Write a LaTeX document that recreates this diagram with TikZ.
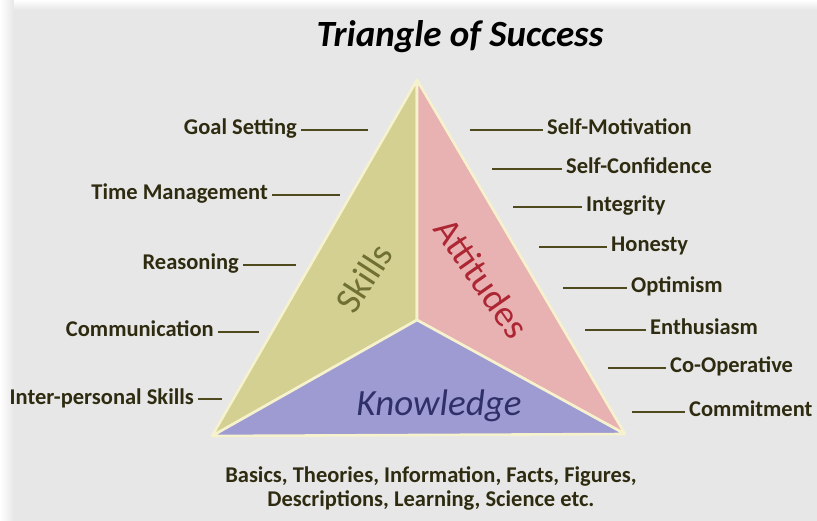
\documentclass[tikz,border=0pt]{standalone}
\usepackage{fontspec}
\setmainfont{Carlito}

\definecolor{bggray}{RGB}{231,231,231}
\definecolor{gapcream}{RGB}{246,242,205}
\definecolor{skillfill}{RGB}{211,208,145}
\definecolor{attfill}{RGB}{233,178,178}
\definecolor{knowfill}{RGB}{157,155,210}
\definecolor{skilltext}{RGB}{112,112,52}
\definecolor{atttext}{RGB}{172,38,52}
\definecolor{knowtext}{RGB}{48,48,105}
\definecolor{lbltext}{RGB}{46,43,16}
\definecolor{tickline}{RGB}{78,74,30}

\tikzset{
  lbl/.style={font=\bfseries\fontsize{22.5}{26}\selectfont, text=lbltext,
    inner sep=4pt, text height=10pt, text depth=0pt},
  tick/.style={draw=tickline, line width=1.7pt},
  piece/.style={draw=gapcream, line width=2.6pt, line join=round},
  bigword/.style={font=\fontsize{37}{40}\selectfont},
}

\begin{document}
\begin{tikzpicture}[x=1pt,y=-1pt]
  \fill[bggray] (0,0) rectangle (817,521);
  \shade[left color=white, right color=bggray] (0,0) rectangle (14,521);
  \shade[top color=white, bottom color=bggray] (14,0) rectangle (817,10);
  \useasboundingbox (0,0) rectangle (817,521);

  % the triangle
  \coordinate (top) at (417,80);
  \coordinate (mid) at (417,320);
  \coordinate (bl) at (212,436);
  \coordinate (br) at (625,434);
  \filldraw[piece, fill=skillfill] (top) -- (mid) -- (bl) -- cycle;
  \filldraw[piece, fill=attfill] (top) -- (br) -- (mid) -- cycle;
  \filldraw[piece, fill=knowfill] (mid) -- (br) -- (bl) -- cycle;

  \node[bigword, text=skilltext, rotate=57] (skills) at (364,278) {Skills};
  \node[bigword, text=atttext, rotate=-55] (att) at (482,278) {Attitudes};
  \node[font=\itshape\fontsize{37}{40}\selectfont, text=knowtext] (know) at (439,406) {Knowledge};

  \node[font=\bfseries\itshape\fontsize{37}{40}\selectfont] (title) at (460,37) {Triangle of Success};

  % skills side
  \node[lbl, anchor=east] (goal) at (301,130) {Goal Setting};
  \node[lbl, anchor=east] (time) at (272,195) {Time Management};
  \node[lbl, anchor=east] (reason) at (243,265) {Reasoning};
  \node[lbl, anchor=east] (comm) at (218,332) {Communication};
  \node[lbl, anchor=east] (inter) at (198,399) {Inter-personal Skills};
  \coordinate (goalend) at (368,130);
  \coordinate (timeend) at (340,195);
  \coordinate (reasonend) at (296,265);
  \coordinate (commend) at (259,332);
  \coordinate (interend) at (222,399);
  \draw[tick] (goal) -- (goalend);
  \draw[tick] (time) -- (timeend);
  \draw[tick] (reason) -- (reasonend);
  \draw[tick] (comm) -- (commend);
  \draw[tick] (inter) -- (interend);

  % attitudes side
  \node[lbl, anchor=west] (selfmot) at (543,130) {Self-Motivation};
  \node[lbl, anchor=west] (selfconf) at (562,169) {Self-Confidence};
  \node[lbl, anchor=west] (integ) at (582,207) {Integrity};
  \node[lbl, anchor=west] (hon) at (607,247) {Honesty};
  \node[lbl, anchor=west] (opt) at (627,288) {Optimism};
  \node[lbl, anchor=west] (enth) at (646,330) {Enthusiasm};
  \node[lbl, anchor=west] (coop) at (666,368) {Co-Operative};
  \node[lbl, anchor=west] (commit) at (685,412) {Commitment};
  \coordinate (selfmotend) at (470,130);
  \coordinate (selfconfend) at (492,169);
  \coordinate (integend) at (513,207);
  \coordinate (honend) at (539,247);
  \coordinate (optend) at (563,288);
  \coordinate (enthend) at (585,330);
  \coordinate (coopend) at (608,368);
  \coordinate (commitend) at (632,412);
  \draw[tick] (selfmotend) -- (selfmot);
  \draw[tick] (selfconfend) -- (selfconf);
  \draw[tick] (integend) -- (integ);
  \draw[tick] (honend) -- (hon);
  \draw[tick] (optend) -- (opt);
  \draw[tick] (enthend) -- (enth);
  \draw[tick] (coopend) -- (coop);
  \draw[tick] (commitend) -- (commit);

  % knowledge
  \node[font=\bfseries\fontsize{22.5}{24}\selectfont, text=lbltext, align=center] (facts) at (431,488)
    {Basics, Theories, Information, Facts, Figures,\\ Descriptions, Learning, Science etc.};
\end{tikzpicture}
\end{document}
